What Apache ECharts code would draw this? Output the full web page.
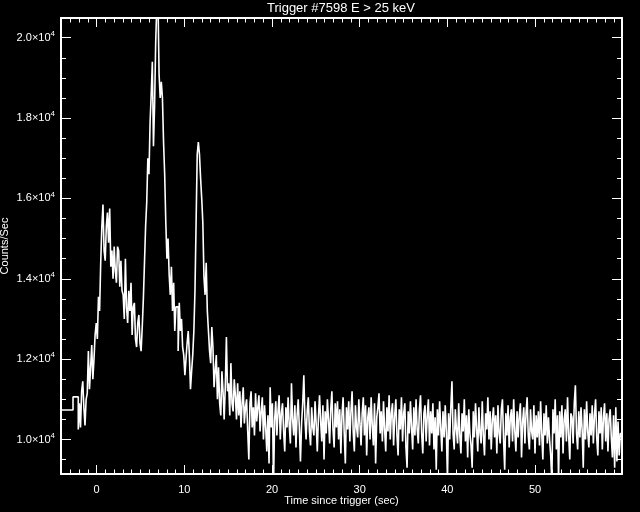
<!DOCTYPE html>
<html>
<head>
<meta charset="utf-8">
<script src="https://cdn.jsdelivr.net/npm/echarts@6/dist/echarts.min.js"></script>
<style>html,body{margin:0;padding:0;background:#000;}#c{width:640px;height:512px;}</style>
</head>
<body>
<div id="c"></div>
<script>
// ---- data ----
const titleText = 'Trigger #7598 E > 25 keV';
const xTitle = 'Time since trigger (sec)';
const yTitle = 'Counts/Sec';

// coarse pre-trigger bins (start times, counts/sec)
const preTimes = [-4.07, -2.7];
const preRate = [10735, 11060];

// fine bins starting at fineStart, width binWidth
const fineStart = -2.1;
const binWidth = 0.128;
// burst part (t = -2.1 .. 15.8 s)
const burstRate = [
  10250, 10900, 10300, 11200, 11450, 10800, 10350, 11000, 11150, 12200,
  11250, 11800, 12350, 11500, 12000, 12600, 12900, 12500, 13550, 13200,
  14400, 15300, 15850, 14700, 14450, 15300, 15650, 14900, 15750, 14300,
  14700, 14000, 14800, 14200, 13900, 14800, 14700, 13800, 14450, 13700,
  13600, 13000, 14500, 13300, 12900, 13700, 13200, 13900, 12600, 13300,
  13400, 12500, 12300, 12900, 13100, 12400, 12200, 12800, 13500, 14400,
  15300, 15900, 17000, 16600, 17900, 18600, 19400, 17300, 18300, 19900,
  20800, 21000, 19100, 18500, 18900, 18500, 17400, 16600, 15400, 14500,
  15000, 14100, 13600, 14300, 13200, 13900, 12700, 13300, 13300, 12200,
  13400, 12700, 13000, 12300, 12100, 11600, 12000, 12400, 12700, 12100,
  11250, 11700, 12100, 12700, 13700, 15400, 17100, 17400, 17100, 16500,
  16000, 15400, 14050, 13600, 14400, 13200, 12700, 12200, 11900, 12800,
  12300, 11300, 11700, 12100, 11000, 11800, 10900, 10600, 11700, 11200,
  10500, 11300, 12550, 11200, 11400, 10600, 11900, 10900, 10700, 11500
];
// tail part (t = 15.8 .. 59.85 s)
const tailRate = [
  11100, 10500, 11400, 10600, 11200, 10300, 10900, 11300, 10400, 10800,
  11000, 10200,  9500, 10900, 11200, 10300, 10800, 10100, 11150, 10450,
  10800, 11100, 10200, 10700, 11050, 10000, 10850, 10300,  9700, 10600,
   9400, 11300, 10300, 10900,  8900, 10500, 10950, 10100, 10700, 11100,
  10000, 10650, 10900, 10200,  9700, 10800, 10300, 11050, 10350,  9900,
  11400, 10500, 10100, 10850,  9800, 10600, 11000, 10300,  9450, 10400,
  10900, 11600, 10500, 10000, 10700, 11050, 10200,  9850, 10800, 10300,
  10100, 10950, 10400,  9700, 10550, 11100, 10450,  9950, 10850,  9500,
  10700, 10150, 11000, 10500,  9900, 10750, 11200, 10250,  9800, 10900,
  10300, 10950, 10000, 10750,  9650, 10600, 11050, 10150,  9400, 10800,
  10250, 10950,  9950, 10700, 11200, 10200,  9700, 10850, 10300, 10050,
  11000, 10400,  9850, 10650, 11050, 10100, 10850,  9600, 10550, 10800,
  10000, 11050, 10350,  9850, 10900,  9400, 10550, 10800, 11150, 10150,
  10700,  9950, 10950, 10250,  9700, 10800, 10200, 11100, 10000, 10650,
  10900,  9850, 10600, 11000, 10100,  9600, 10750, 10250, 11050,  9950,
  10650, 10900,  9800,  9300, 10700, 10150, 10950, 10300,  9750, 10800,
  10100, 11000, 10250,  9900, 10750, 11100, 10150,  9650, 10650, 10850,
   9950, 10600, 11000,  9850, 10700, 10150, 10900,  9750, 10550,  9250,
  10750, 10100, 10950, 10300,  9700, 10700, 10050, 10850, 10200,  9000,
  10650, 10000, 10800, 11450, 10150,  9750, 10750, 10250,  9900, 10900,
  10100,  9650, 10650, 10200, 11000,  9950, 10600,  9550, 10750, 10150,
   9850,  9300, 10700, 10050, 10900, 10250,  9700, 10800, 10150,  9900,
  10950, 10100,  9600, 10650, 10250, 11050, 10000, 10700,  9750, 10500,
  10800, 10050, 10600,  9650, 10850, 10150,  9900, 10750, 11000, 10000,
   9250, 10650, 10100, 10850,  9800, 10550, 10750,  9950, 11000, 10200,
   9700, 10700, 10050, 10600, 10900,  9550, 10450, 10800,  9900, 10650,
  11050, 10100,  9750, 10750, 10200, 10000, 10850,  9650, 10600, 10050,
  10700,  9850, 10950, 10150,  9500, 10650, 10100, 10850,  9900, 10550,
  10000,  9600,  8950, 10750, 10150, 11000,  9750, 10600,  9000, 10700,
  10050, 10850,  9650, 10500, 10750,  9950, 11050, 10100,  9500, 10650,
  10550,  9900, 10900, 11350, 10150,  9750, 10700, 10050, 10800, 10250,
   9300, 10750, 10000, 10950, 10200,  9800, 10650, 10100, 10850,  9900,
  10600, 11000, 10050,  9600, 10700, 10150, 10800,  9750, 10550, 10900,
   9950, 10650,  9700, 10500, 10750, 10050,  9550, 10600,  9300, 10800,
   9450, 10450,  9600, 10150
];

const xMajor = [0, 10, 20, 30, 40, 50];
const xMinor = [-3,-2,-1,1,2,3,4,5,6,7,8,9,11,12,13,14,15,16,17,18,19,21,22,23,24,25,26,27,28,29,
  31,32,33,34,35,36,37,38,39,41,42,43,44,45,46,47,48,49,51,52,53,54,55,56,57,58,59];
const yMajor = [10000, 12000, 14000, 16000, 18000, 20000];
const yMinor = [9500,10500,11000,11500,12500,13000,13500,14500,15000,15500,16500,17000,17500,18500,19000,19500];

const X_MIN = -4.07, X_MAX = 59.92, Y_MIN = 9141, Y_MAX = 20490;

// ---- build ----
const rate = burstRate.concat(tailRate);
const pts = preTimes.map((t, i) => [t, preRate[i]]);
rate.forEach((v, i) => pts.push([+(fineStart + i * binWidth).toFixed(4), v]));
pts.push([+(fineStart + rate.length * binWidth).toFixed(4), rate[rate.length - 1]]);

const FONT = 'Liberation Sans';
const W = '#ffffff';

function xAx(pos, ticks, len, showLine, showLabel) {
  return {
    type: 'value', position: pos, min: X_MIN, max: X_MAX,
    axisLine: { show: showLine, onZero: false, lineStyle: { color: W, width: 2 } },
    axisTick: { show: true, inside: true, length: len, customValues: ticks, lineStyle: { color: W, width: 1 } },
    axisLabel: { show: showLabel, customValues: ticks, color: W, fontSize: 11, fontFamily: FONT, margin: 10 },
    splitLine: { show: false }
  };
}
function yAx(pos, ticks, len, showLine, showLabel) {
  return {
    type: 'value', position: pos, min: Y_MIN, max: Y_MAX,
    axisLine: { show: showLine, onZero: false, lineStyle: { color: W, width: 2 } },
    axisTick: { show: true, inside: true, length: len, customValues: ticks, lineStyle: { color: W, width: 1 } },
    axisLabel: {
      show: showLabel, customValues: ticks, margin: 6,
      formatter: v => '{a|' + (v / 10000).toFixed(1) + '×10}{b|4}',
      rich: {
        a: { color: W, fontSize: 11, fontFamily: FONT },
        b: { color: W, fontSize: 8, fontFamily: FONT, padding: [0, 0, 8, 0] }
      }
    },
    splitLine: { show: false }
  };
}

const xAxes = [
  xAx('bottom', xMajor, 9, true, true),
  xAx('bottom', xMinor, 4.5, false, false),
  xAx('top', xMajor, 9, true, false),
  xAx('top', xMinor, 4.5, false, false)
];
Object.assign(xAxes[0], {
  name: xTitle, nameLocation: 'middle', nameGap: 21, nameMoveOverlap: false,
  nameTextStyle: { color: W, fontSize: 11, fontFamily: FONT }
});

const yAxes = [
  yAx('left', yMajor, 10, true, true),
  yAx('left', yMinor, 5, false, false),
  yAx('right', yMajor, 10, true, false),
  yAx('right', yMinor, 5, false, false)
];
Object.assign(yAxes[0], {
  name: yTitle, nameLocation: 'middle', nameGap: 51, nameRotate: 90, nameMoveOverlap: false,
  nameTextStyle: { color: W, fontSize: 11, fontFamily: FONT }
});

const chart = echarts.init(document.getElementById('c'), null, { renderer: 'canvas' });
chart.setOption({
  backgroundColor: '#000',
  animation: false,
  grid: { left: 61, right: 18, top: 18, bottom: 38, containLabel: false, outerBoundsMode: 'none' },
  graphic: [{
    type: 'text', x: 341, y: 8,
    style: { text: titleText, fill: W, font: '13px "' + FONT + '"', textAlign: 'center', textVerticalAlign: 'middle' }
  }],
  xAxis: xAxes,
  yAxis: yAxes,
  series: [{
    type: 'line', xAxisIndex: 0, yAxisIndex: 0,
    data: pts, step: 'end', showSymbol: false, clip: true,
    lineStyle: { color: W, width: 1.6 }
  }]
});
</script>
</body>
</html>
